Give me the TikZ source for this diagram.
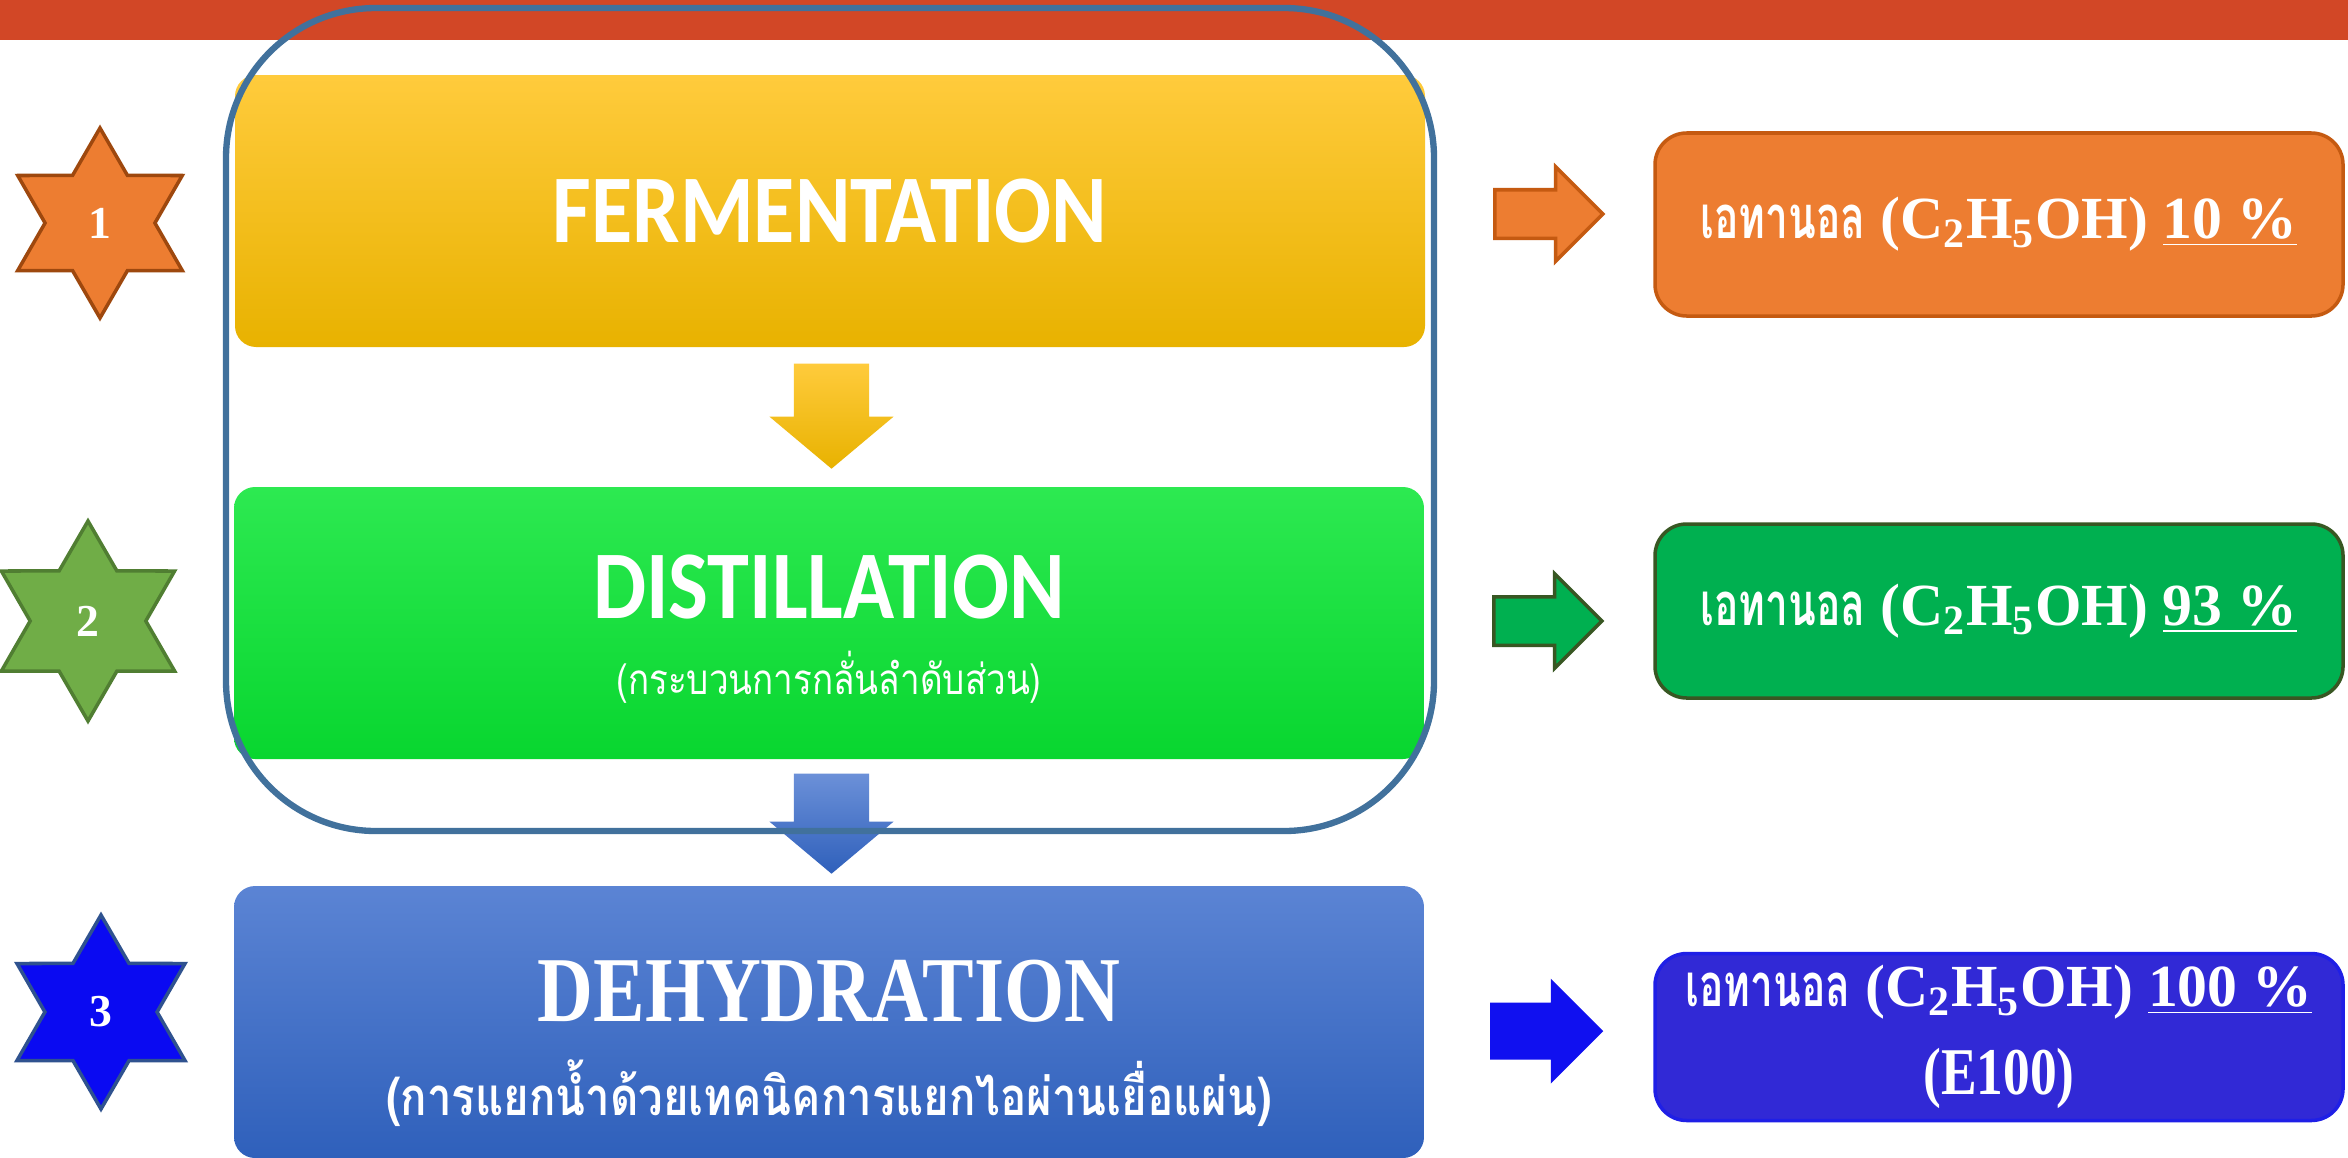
\documentclass[tikz,border=0pt]{standalone}
\usepackage{fontspec}
\usepackage{tikz}
\usetikzlibrary{positioning,shapes.geometric,shapes.arrows}
\setmainfont{Liberation Serif}
\newfontfamily\thaifont[Script=Thai]{Loma}
\newfontfamily\headfont{Carlito}
\definecolor{barred}{HTML}{D24726}
\definecolor{frameblue}{HTML}{41719C}
\definecolor{yellowtop}{HTML}{FFCB3C}
\definecolor{yellowbot}{HTML}{E8B200}
\definecolor{greentop}{HTML}{2DE951}
\definecolor{greenbot}{HTML}{08D62F}
\definecolor{bluetop}{HTML}{5B84D4}
\definecolor{bluebot}{HTML}{2F60BB}
\definecolor{brandorange}{HTML}{ED7D31}
\definecolor{darkorange}{HTML}{C55A11}
\definecolor{brandgreen}{HTML}{00B050}
\definecolor{darkgreen}{HTML}{385723}
\definecolor{leafgreen}{HTML}{70AD47}
\definecolor{leafdark}{HTML}{507E32}
\definecolor{starblue}{HTML}{0A0AF2}
\definecolor{navyline}{HTML}{2F528F}
\definecolor{resultblue}{HTML}{3129D6}
\definecolor{resultline}{HTML}{1F1FE6}
\definecolor{arrowblue}{HTML}{1010F0}
\newcommand{\ethanol}{\scalebox{0.68}[1]{\thaifont เอทานอล}}
\tikzset{
  stagebox/.style={
    rectangle,
    rounded corners=6pt,
    minimum width=11.9cm,
    minimum height=2.72cm,
    inner sep=0pt
  },
  resultbox/.style={
    rectangle,
    rounded corners=9pt,
    minimum width=6.88cm,
    line width=1pt,
    align=center,
    text=white,
    font=\fontsize{17}{22}\selectfont\bfseries
  },
  numstar/.style={
    star,
    star points=6,
    star point ratio=1.73,
    inner sep=0pt,
    line width=1pt,
    text=white,
    font=\fontsize{13}{15}\selectfont\bfseries
  },
  sidearrow/.style={
    single arrow,
    anchor=tail,
    single arrow head extend=0.23cm,
    single arrow tip angle=90,
    minimum height=1.08cm,
    text height=0.45cm,
    text depth=0pt,
    inner sep=0pt,
    line width=1pt
  },
  downarrow/.style={
    single arrow,
    rotate=-90,
    anchor=tail,
    single arrow head extend=0.245cm,
    single arrow tip angle=100,
    text height=0.74cm,
    text depth=0pt,
    inner sep=0pt
  },
  titletext/.style={text=white, font=\headfont\fontsize{24}{28}\selectfont\bfseries},
  subtext/.style={text=white, font=\thaifont\fontsize{12}{16}\selectfont}
}

\begin{document}
\begin{tikzpicture}
  \useasboundingbox (0,0) rectangle (23.48,-11.57);
  \fill[white] (0,0) rectangle (23.48,-11.57);
  \fill[barred] (0,0) rectangle (23.48,-0.40);

  \node[stagebox, top color=yellowtop, bottom color=yellowbot, titletext] (ferm) at (8.30,-2.11) {\scalebox{1}[1.15]{FERMENTATION}};
  \node[stagebox, top color=greentop, bottom color=greenbot] (dist) at (8.29,-6.23) {};
  \node[titletext] (distTitle) at (8.29,-5.87) {\scalebox{1}[1.15]{DISTILLATION}};
  \node[subtext] (distSub) at (8.29,-6.77) {\scalebox{0.83}[1]{(กระบวนการกลั่นลำดับส่วน)}};
  \node[stagebox, top color=bluetop, bottom color=bluebot] (dehy) at (8.29,-10.22) {};
  \node[text=white, font=\fontsize{22}{26}\selectfont\bfseries] (dehyTitle) at (8.29,-9.91) {\scalebox{1}[1.2]{DEHYDRATION}};
  \node[subtext, font=\thaifont\fontsize{15}{18}\selectfont\bfseries] (dehySub) at (8.29,-10.93) {\scalebox{0.83}[1]{(การแยกน้ำด้วยเทคนิคการแยกไอผ่านเยื่อแผ่น)}};

  \node[downarrow, minimum height=1.05cm, top color=yellowtop, bottom color=yellowbot] (fd) at (8.315,-3.63) {};
  \node[downarrow, minimum height=1.00cm, top color=bluetop!90!white, bottom color=bluebot] (dd) at (8.315,-7.73) {};

  \draw[frameblue, line width=1.8pt, rounded corners=1.5cm] (2.26,-0.08) rectangle (14.34,-8.31);

  \node[numstar, fill=brandorange, draw=darkorange!80!black, minimum size=1.9cm] (s1) at (1.00,-2.23) {1};
  \node[numstar, fill=leafgreen, draw=leafdark, minimum size=2.0cm] (s2) at (0.88,-6.21) {2};
  \node[numstar, fill=starblue, draw=navyline, minimum size=1.94cm] (s3) at (1.01,-10.12) {3};

  \node[sidearrow, fill=brandorange, draw=darkorange] (a1) at (14.93,-2.14) {};
  \node[sidearrow, fill=brandgreen, draw=darkgreen] (a2) at (14.92,-6.21) {};
  \node[sidearrow, fill=arrowblue, draw=arrowblue, single arrow head extend=0.215cm, text height=0.50cm, minimum height=1.09cm] (a3) at (14.90,-10.31) {};

  \node[resultbox, fill=brandorange, draw=darkorange, minimum height=1.83cm] (r1) at (19.99,-2.245)
    {\ethanol{} (C\textsubscript{2}H\textsubscript{5}OH) \underline{10 \%}};
  \node[resultbox, fill=brandgreen, draw=darkgreen, minimum height=1.74cm] (r2) at (19.99,-6.11)
    {\ethanol{} (C\textsubscript{2}H\textsubscript{5}OH) \underline{93 \%}};
  \node[resultbox, fill=resultblue, draw=resultline, minimum height=1.66cm] (r3) at (19.99,-10.37)
    {\ethanol{} (C\textsubscript{2}H\textsubscript{5}OH) \underline{100 \%}\\[3pt]\scalebox{0.8}[1]{\fontsize{19}{22}\selectfont (E100)}};
\end{tikzpicture}
\end{document}
